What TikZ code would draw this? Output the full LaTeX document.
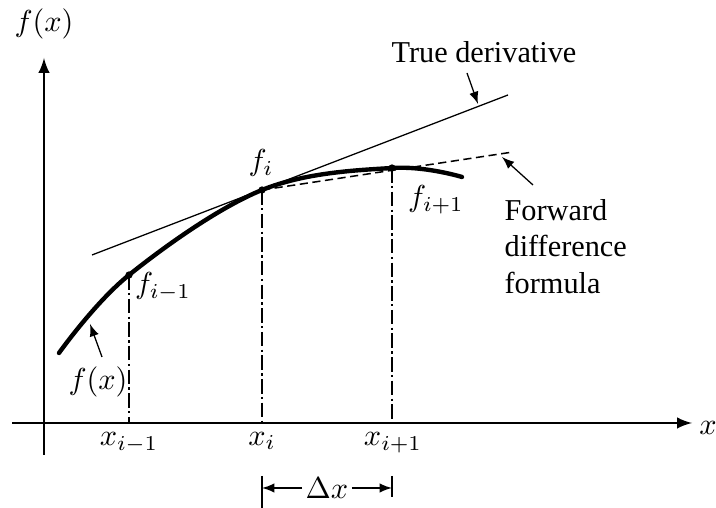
\documentclass[tikz,border=0pt]{standalone}
\usepackage{fontspec}
\setmainfont{Liberation Serif}
\usetikzlibrary{arrows}

\tikzset{
  axis/.style={line width=0.7pt,-latex},
  curve/.style={line width=1.45pt,line cap=round},
  tangent/.style={line width=0.42pt},
  secant/.style={line width=0.5pt,dash pattern=on 2.7pt off 1.5pt},
  dropline/.style={line width=0.42pt,dash pattern=on 4.8pt off 1.1pt on 0.8pt off 1.1pt},
  pointer/.style={line width=0.42pt,-latex},
  lab/.style={inner sep=1pt}
}

\begin{document}
\begin{tikzpicture}[x=0.33pt,y=-0.33pt]
  \useasboundingbox (0,0) rectangle (716,508);

  % axes
  \coordinate (o) at (44,423);
  \coordinate (ytop) at (44,58);
  \coordinate (ybot) at (44,455);
  \coordinate (xleft) at (12,423);
  \coordinate (xright) at (692,423);
  \draw[axis] (ybot) -- (ytop);
  \draw[axis] (xleft) -- (xright);
  \node[lab] (ylab) at (44,24) {$f(x)$};
  \node[lab] (xlab) at (708,428) {$x$};

  % points on the curve
  \coordinate (fim) at (129,275);
  \coordinate (fi) at (262,190);
  \coordinate (fip) at (392,168);

  % tangent and secant
  \coordinate (ta) at (92,255);
  \coordinate (tb) at (508,95);
  \coordinate (sb) at (513,152);
  \draw[tangent] (ta) -- (tb);
  \draw[secant] (fi) -- (sb);

  % the function
  \draw[curve] plot[smooth,tension=0.6] coordinates
    {(59,353) (fim) (fi) (fip) (462,177)};

  % drop lines
  \draw[dropline] (fim) -- (fim |- o);
  \draw[dropline] (fi) -- (fi |- o);
  \draw[dropline] (fip) -- (fip |- o);
  \foreach \p in {fim,fi,fip}
    \fill (\p) circle (1.2pt);

  % labels
  \node[lab] (lfi) at (261,163) {$f_i$};
  \node[lab] (lfip) at (436,200) {$f_{i+1}$};
  \node[lab] (lfim) at (163,287) {$f_{i-1}$};
  \node[lab] (xim) at (129,443) {$x_{i-1}$};
  \node[lab] (xi) at (262,441) {$x_i$};
  \node[lab] (xip) at (393,443) {$x_{i+1}$};

  % f(x) pointer
  \node[lab] (fx) at (98,382) {$f(x)$};
  \coordinate (fxs) at (102,357);
  \coordinate (fxt) at (90,324);
  \draw[pointer] (fxs) -- (fxt);

  % true derivative
  \node[lab] (td) at (484,52) {True derivative};
  \coordinate (tds) at (467,73);
  \coordinate (tdt) at (478,104);
  \draw[pointer] (tds) -- (tdt);

  % forward difference
  \node[inner sep=0pt,anchor=north west,align=left] (fd) at (504,199)
    {Forward\\difference\\formula};
  \coordinate (fds) at (533,185);
  \coordinate (fdt) at (502,157);
  \draw[pointer] (fds) -- (fdt);

  % delta x
  \coordinate (ti1) at (262,476);
  \coordinate (ti2) at (262,508);
  \coordinate (tp1) at (392,476);
  \coordinate (tp2) at (392,497);
  \draw[line width=0.42pt] (ti1) -- (ti2);
  \draw[line width=0.42pt] (tp1) -- (tp2);
  \node[lab] (dx) at (327,488) {$\Delta x$};
  \draw[pointer] (dx.west) -- (dx.west -| ti1);
  \draw[pointer] (dx.east) -- (dx.east -| tp1);
\end{tikzpicture}
\end{document}
